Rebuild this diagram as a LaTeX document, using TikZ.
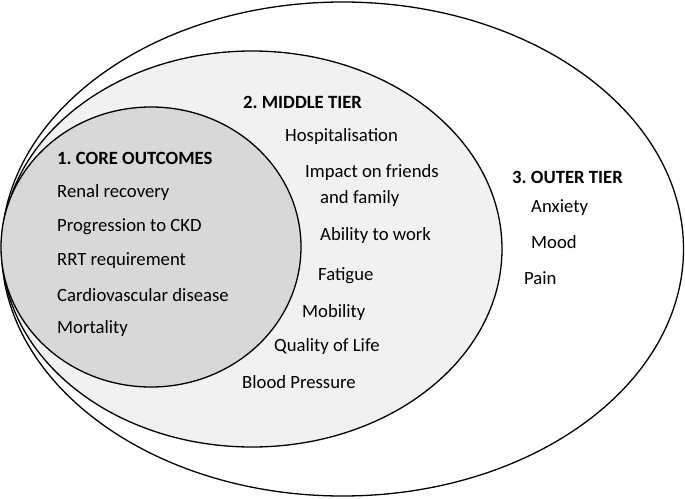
\documentclass[tikz,border=0pt]{standalone}
\usepackage{fontspec}
\setmainfont{Carlito}
\frenchspacing
\definecolor{midfill}{HTML}{F1F1F1}
\definecolor{corefill}{HTML}{D8D8D8}
\begin{document}
\begin{tikzpicture}[x=1pt,y=-1pt,
  tier/.style={draw=black,line width=1.3pt},
  item/.style={anchor=west,inner sep=0pt,font=\fontsize{18.7}{22}\selectfont},
  head/.style={item,font=\fontsize{18.7}{22}\selectfont\bfseries}]
 \useasboundingbox (0,0) rectangle (685,498);
 % the three tiers
 \draw[tier,fill=white] (342.5,249) ellipse [x radius=341,y radius=247];
 \draw[tier,fill=midfill] (252,249) ellipse [x radius=250,y radius=198];
 \draw[tier,fill=corefill] (151,247) ellipse [x radius=150,y radius=140];
 % core outcomes
 \node[head] (core) at (57,158) {1. CORE OUTCOMES};
 \node[item] (renal) at (57,193) {Renal recovery};
 \node[item] (ckd) at (57,227) {Progression to CKD};
 \node[item] (rrt) at (57,261) {RRT requirement};
 \node[item] (cvd) at (57,295) {Cardiovascular disease};
 \node[item] (mort) at (57,329) {Mortality};
 % middle tier
 \node[head] (middle) at (243,102) {2. MIDDLE TIER};
 \node[item] (hosp) at (285,137) {Hospitalisation};
 \node[item] (impact) at (305,173) {Impact on friends};
 \node[item] (family) at (320,199) {and family};
 \node[item] (work) at (320,236) {Ability to work};
 \node[item] (fatigue) at (318,276) {Fatigue};
 \node[item] (mobil) at (302,313) {Mobility};
 \node[item] (qol) at (274,347) {Quality of Life};
 \node[item] (bp) at (242,382) {Blood Pressure};
 % outer tier
 \node[head] (outer) at (512,177) {3. OUTER TIER};
 \node[item] (anx) at (531,208) {Anxiety};
 \node[item] (mood) at (531,242) {Mood};
 \node[item] (pain) at (524,278) {Pain};
\end{tikzpicture}
\end{document}
